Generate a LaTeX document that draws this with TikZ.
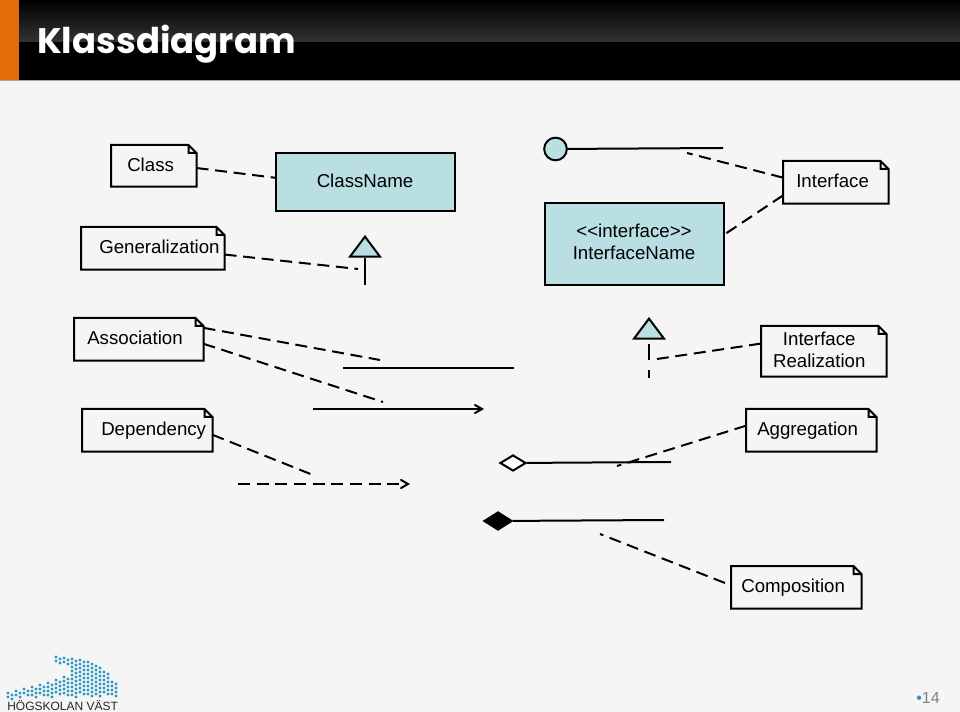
\documentclass[tikz,border=0pt]{standalone}
\usepackage{fontspec}
\setmainfont{Liberation Sans}
\newfontfamily\titlefont{Poppins}
\usetikzlibrary{arrows,shapes.geometric}
\definecolor{slidebg}{RGB}{245,245,245}
\definecolor{umlblue}{RGB}{185,223,227}
\definecolor{barorange}{RGB}{227,108,10}
\definecolor{logoblue}{RGB}{40,150,195}
\tikzstyle{line} = [line width=1.5pt,color=black]
\tikzstyle{dashline} = [line width=1.5pt,color=black,dash pattern=on 9pt off 5pt]
\tikzstyle{arrow} = [line,->,>=angle 60]
\tikzstyle{umlbox} = [rectangle, anchor=north west, draw=black, fill=umlblue, line width=1.5pt, inner sep=0pt, outer sep=0pt, align=center, text height=10pt, text depth=1.8pt]
\tikzstyle{umltri} = [isosceles triangle, isosceles triangle stretches, shape border rotate=90, anchor=apex, draw=black, fill=umlblue, line width=1.5pt, inner sep=0pt, minimum width=22.5pt, minimum height=15pt]
\tikzstyle{umldiamond} = [diamond, draw=black, line width=1.5pt, inner sep=0pt, minimum width=19.5pt, minimum height=12pt]
% width, left and right padding, height in pixels of the reference
\tikzset{note/.style n args={3}{rectangle, anchor=north west, inner ysep=0pt, inner xsep=#2*0.75pt, minimum height=#3*0.75pt, align=left, text height=10pt, text depth=1.8pt,
  /utils/exec={\pgfmathsetlengthmacro\notewidth{0.75*(#1-2*#2)}}, text width=\notewidth,
  append after command={\pgfextra{\let\notenode=\tikzlastnode
    \draw[line width=1.5pt,line join=miter]
    (\notenode.north west) -- ([xshift=-6pt]\notenode.north east) -- ([yshift=-6pt]\notenode.north east)
    -- (\notenode.south east) -- (\notenode.south west) -- cycle
    ([xshift=-6pt]\notenode.north east) -- ([xshift=-6pt,yshift=-6pt]\notenode.north east) -- ([yshift=-6pt]\notenode.north east);}}}}
\begin{document}
\begin{tikzpicture}[x=0.75pt,y=-0.75pt,font=\fontsize{14}{16.5}\selectfont]
\useasboundingbox (0,0) rectangle (960,712);
\fill[slidebg] (0,0) rectangle (960,712);
% Header
\fill[black] (0,0) rectangle (960,80);
\shade[top color=black,bottom color=black!80] (19,0) rectangle (960,42);
\fill[barorange] (0,0) rectangle (19,80);
\draw[black!35,line width=0.75pt] (0,80.5) -- (960,80.5);
\node (title) [anchor=west,text=white,inner sep=0pt,font=\titlefont\bfseries\fontsize{26.6}{30}\selectfont] at (37,44.5) {Klassdiagram};
% Class
\node (classbox) [umlbox, minimum width=134.25pt, minimum height=43.5pt] at (275.5,153.5) {ClassName};
\node (classnote) [note={85}{16}{41}] at (111,145) {Class};
\draw[dashline] (classnote.-3) -- (classbox.177);
% Generalization
\node (gentri) [umltri] at (365,234) {};
\coordinate (genend) at (365,285);
\coordinate (gentip) at (358,269);
\node (gennote) [note={143}{5}{42}] at (81,227) {\mbox{\hspace*{9.75pt}Generalization}};
\draw[line] (gentri.lower side) -- (genend);
\draw[dashline] (gennote.-5) -- (gentip);
% Interface
\node (lollipop) [circle, draw=black, fill=umlblue, line width=1.5pt, inner sep=0pt, minimum size=17pt] at (555.5,149) {};
\coordinate (lolliend) at (723,148);
\coordinate (lollitip) at (687,153);
\node (ifacebox) [umlbox, minimum width=134.25pt, minimum height=61.5pt, text height=25pt] at (544.5,203.5) {{<}{<}interface{>}{>}\\InterfaceName};
\node (ifacenote) [note={105}{13}{42}] at (783,161) {Interface};
\draw[line] (lollipop) -- (lolliend);
\draw[dashline] (ifacenote.175) -- (lollitip);
\draw[dashline] (ifacenote.194) -- (ifacebox.6);
% Association
\node (assocnote) [note={129}{13}{42}] at (74,318) {Association};
\coordinate (assocA) at (343,368);
\coordinate (assocB) at (514,368);
\coordinate (assocC) at (313,409);
\coordinate (assocD) at (484,409);
\coordinate (assoctipA) at (380,360);
\coordinate (assoctipB) at (383,402);
\draw[line] (assocA) -- (assocB);
\draw[arrow] (assocC) -- (assocD);
\draw[dashline] (assocnote.10) -- (assoctipA);
\draw[dashline] (assocnote.-4) -- (assoctipB);
% Interface realization
\node (realtri) [umltri] at (649,316) {};
\coordinate (realend) at (649,378);
\coordinate (realtip) at (657,359);
\node (realnote) [note={125}{1}{50}, align=center, text depth=18.5pt] at (761,326) {\mbox{Interface\hspace{6.75pt}}\\\mbox{Realization\hspace{6.75pt}}};
\draw[dashline,dash pattern=on 12.5pt off 7.5pt] ([yshift=-3pt]realtri.lower side) -- (realend);
\draw[dashline] (realnote.173) -- (realtip);
% Dependency
\node (depnote) [note={130}{19}{42}] at (82,409) {\mbox{Dependency}};
\coordinate (depA) at (238,484);
\coordinate (depB) at (410,484);
\coordinate (deptip) at (313,475);
\draw[dashline] (depnote.-4) -- (deptip);
\draw[dashline,->,>=angle 60] (depA) -- (depB);
% Aggregation
\node (aggdiamond) [umldiamond, fill=white] at (513,463) {};
\coordinate (aggend) at (671,462);
\coordinate (aggtip) at (617,466);
\node (aggnote) [note={130}{11}{42}] at (746,409) {Aggregation};
\draw[line] (aggdiamond) -- (aggend);
\draw[dashline] (aggnote.176) -- (aggtip);
% Composition
\node (compdiamond) [umldiamond, fill=black, minimum width=21pt, minimum height=13.5pt] at (498,521) {};
\coordinate (compend) at (664,520);
\coordinate (comptipA) at (725,583);
\coordinate (comptipB) at (600,534);
\node (compnote) [note={130}{10}{42}] at (731,566) {Composition};
\draw[line] (compdiamond) -- (compend);
\draw[dashline] (comptipA) -- (comptipB);
% Logo
\foreach \x/\ya/\yb in {8/693/695,16/691/695,24/689/695,32/687/695,40/685/695,48/683/695,56/680/695,56/657/661,64/677/695,64/658/662,72/659/695,80/660/695,88/662/695,96/666/695,104/672/695,112/682/695}{
  \foreach \y in {\ya,\numexpr\ya+4\relax,...,\yb}{
    \fill[logoblue] (\x,\y) circle (1.6);
    \fill[logoblue] (\x+4,\y+2) circle (1.6);
  }
}
\node (logotext) [anchor=base west,inner sep=0pt,font=\fontsize{9}{10}\selectfont,text=black!85] at (7,710.5) {HÖGSKOLAN VÄST};
% Page number
\node (pagenum) [anchor=east,inner sep=0pt,text=black!50,font=\fontsize{12}{14}\selectfont] at (940,698) {\textcolor{logoblue}{\textbullet}14};
\end{tikzpicture}
\end{document}
